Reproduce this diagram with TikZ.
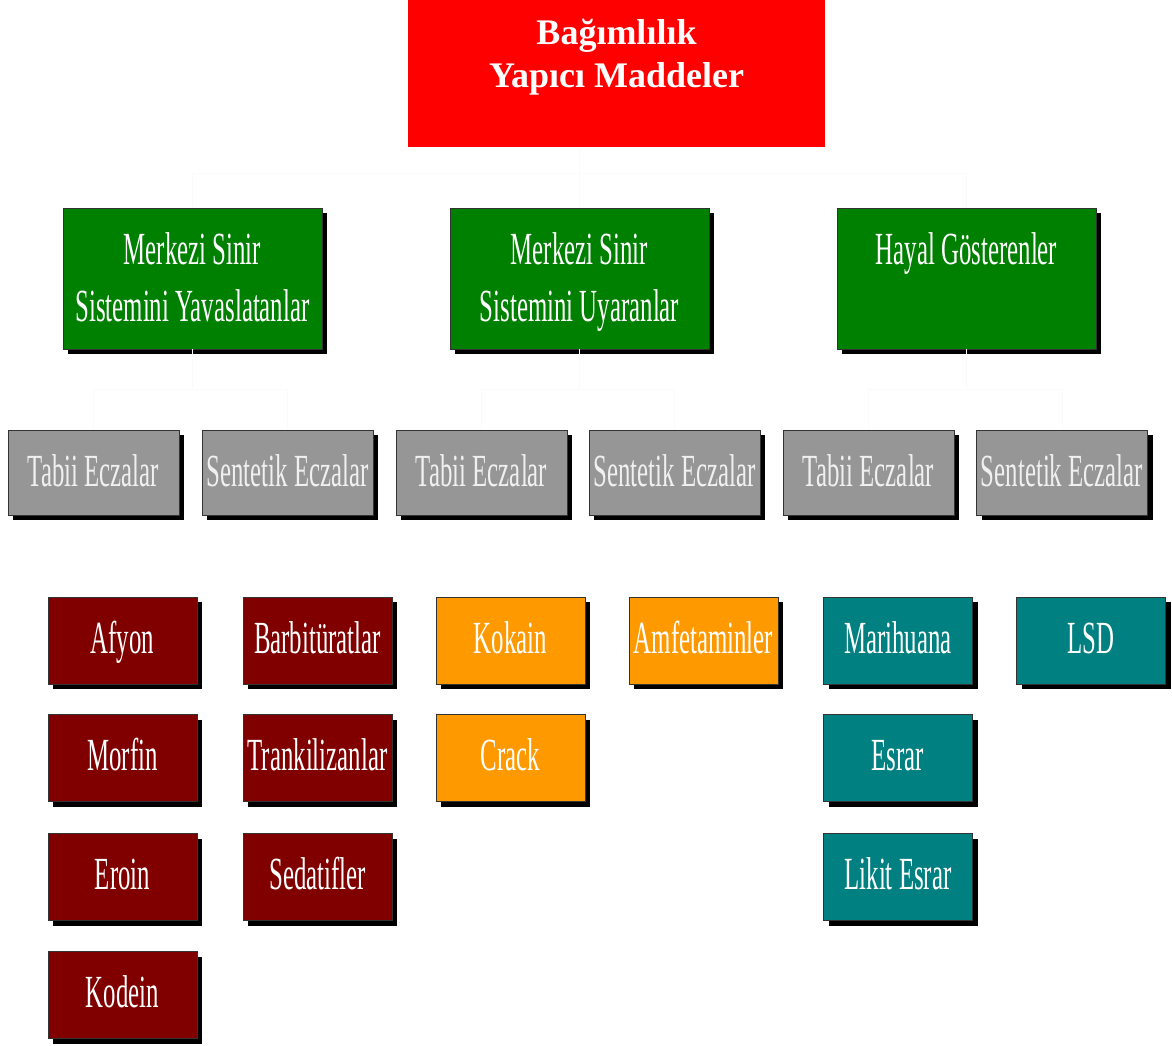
\documentclass[tikz,border=0pt]{standalone}
\usepackage{fontspec}
\setmainfont{Liberation Serif}
\newfontfamily\condfont[FakeStretch=0.54]{Liberation Serif}
\usetikzlibrary{positioning,shadows}
\definecolor{titlered}{HTML}{FF0000}
\definecolor{groupgreen}{HTML}{008000}
\definecolor{kindgray}{HTML}{969696}
\definecolor{drugred}{HTML}{800000}
\definecolor{drugorange}{HTML}{FF9900}
\definecolor{drugteal}{HTML}{008080}
\tikzset{
  box/.style={rectangle,draw=black!80,line width=0.8pt,inner sep=0pt,align=center,
    text=white,font=\condfont\fontsize{46}{57}\selectfont,text depth=7pt,
    drop shadow={shadow xshift=5pt,shadow yshift=-5pt,fill=black,opacity=1}},
  group/.style={box,fill=groupgreen,minimum width=259pt,minimum height=141pt,text height=93pt},
  kind/.style={box,fill=kindgray,text=white!94!black,minimum width=171pt,minimum height=85pt,text height=34pt},
  drug/.style={box,minimum width=149pt,minimum height=87pt,text height=32pt},
  link/.style={draw=black!2,line width=1pt}
}
\begin{document}
\begin{tikzpicture}[x=1pt,y=-1pt]
  \useasboundingbox (0,0) rectangle (1172,1045);

  % title
  \node [rectangle,fill=titlered,minimum width=417pt,minimum height=147pt,inner sep=0pt,
    align=center,text=white,font=\bfseries\fontsize{36}{43}\selectfont]
    at (616.5,73.5) (root) {Bağımlılık\\Yapıcı Maddeler\\[-2pt]\mbox{}};

  % main groups
  \node [group] at (192.5,278.5) (depr) {Merkezi Sinir\\Sistemini Yavaslatanlar};
  \node [group] at (579.5,278.5) (stim) {Merkezi Sinir\\Sistemini Uyaranlar};
  \node [group] at (966.5,278.5) (hall) {Hayal Gösterenler\\\mbox{}};

  % natural / synthetic
  \node [kind] at (93.5,472.5) (deprnat) {Tabii Eczalar};
  \node [kind] at (287.5,472.5) (deprsyn) {Sentetik Eczalar};
  \node [kind] at (481.5,472.5) (stimnat) {Tabii Eczalar};
  \node [kind] at (674.5,472.5) (stimsyn) {Sentetik Eczalar};
  \node [kind] at (868.5,472.5) (hallnat) {Tabii Eczalar};
  \node [kind] at (1062,472.5) (hallsyn) {Sentetik Eczalar};

  % substances
  \node [drug,fill=drugred] at (122.5,640.5) (afyon) {Afyon};
  \node [drug,fill=drugred] at (122.5,758) (morfin) {Morfin};
  \node [drug,fill=drugred] at (122.5,877) (eroin) {Eroin};
  \node [drug,fill=drugred] at (122.5,995) (kodein) {Kodein};
  \node [drug,fill=drugred] at (317.5,640.5) (barb) {Barbitüratlar};
  \node [drug,fill=drugred] at (317.5,758) (trank) {Trankilizanlar};
  \node [drug,fill=drugred] at (317.5,877) (sedat) {Sedatifler};
  \node [drug,fill=drugorange] at (510.5,640.5) (kokain) {Kokain};
  \node [drug,fill=drugorange] at (510.5,758) (crack) {Crack};
  \node [drug,fill=drugorange] at (703.5,640.5) (amfet) {Amfetaminler};
  \node [drug,fill=drugteal] at (898,640.5) (marih) {Marihuana};
  \node [drug,fill=drugteal] at (898,758) (esrar) {Esrar};
  \node [drug,fill=drugteal] at (898,877) (likit) {Likit Esrar};
  \node [drug,fill=drugteal] at (1091,640.5) (lsd) {LSD};

  % faint connectors
  \coordinate (rootbus) at (579.5,173);
  \draw [link] (stim.north) -- (stim.north |- root.south);
  \draw [link] (depr.north) |- (rootbus) -| (hall.north);
  \foreach \g/\n/\s in {depr/deprnat/deprsyn,stim/stimnat/stimsyn,hall/hallnat/hallsyn}{
    \draw [link] (\g.south) -- ++(0,40) coordinate (\g bus);
    \draw [link] (\n.north) |- (\g bus) -| (\s.north);
  }
\end{tikzpicture}
\end{document}
